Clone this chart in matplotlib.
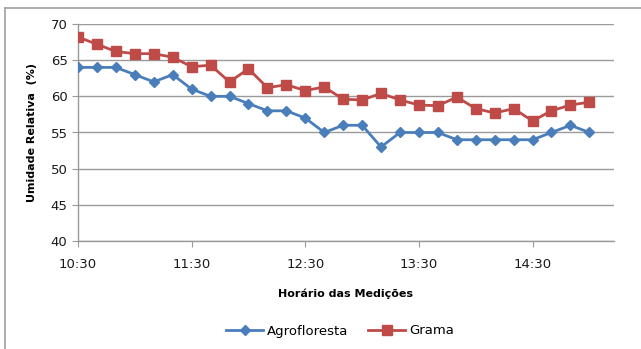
import matplotlib.pyplot as plt
from matplotlib.lines import Line2D
import numpy as np

# measurement times, every 10 min from 10:30 to 15:00
times = ['10:30', '10:40', '10:50', '11:00', '11:10', '11:20',
         '11:30', '11:40', '11:50', '12:00', '12:10', '12:20',
         '12:30', '12:40', '12:50', '13:00', '13:10', '13:20',
         '13:30', '13:40', '13:50', '14:00', '14:10', '14:20',
         '14:30', '14:40', '14:50', '15:00']
agrofloresta = [64, 64, 64, 63, 62, 63, 61, 60, 60, 59, 58, 58, 57, 55,
                56, 56, 53, 55, 55, 55, 54, 54, 54, 54, 54, 55, 56, 55]
grama = [68.2, 67.2, 66.2, 65.9, 65.9, 65.4, 64.1, 64.3, 62.0, 63.8,
         61.2, 61.6, 60.8, 61.3, 59.6, 59.5, 60.4, 59.5, 58.8, 58.7,
         59.9, 58.3, 57.7, 58.3, 56.6, 58.0, 58.8, 59.2]
tick_labels = ['10:30', '11:30', '12:30', '13:30', '14:30']

blue = '#4a7ebb'
red = '#be4b48'
grid_c = '#9a9a9a'

fig = plt.figure(figsize=(6.41, 3.49), dpi=100)
ax = fig.add_axes([78/641, 1-241/349, (614-78)/641, (241-24)/349])

x = np.arange(len(times))
ax.plot(x, agrofloresta, color=blue, lw=2, marker='D', ms=5,
        mec=blue, mfc=blue, label='Agrofloresta', zorder=3)
ax.plot(x, grama, color=red, lw=2, marker='s', ms=6.5,
        mec=red, mfc=red, label='Grama', zorder=3)

ax.set_ylim(40, 70)
ax.set_yticks(range(40, 71, 5))
ax.set_xlim(0, 28.3)
ax.set_xticks([times.index(t) for t in tick_labels])
ax.set_xticklabels(tick_labels)

ax.yaxis.grid(True, color=grid_c, lw=1)
ax.set_axisbelow(True)
for s in ['top', 'right']:
    ax.spines[s].set_visible(False)
for s in ['left', 'bottom']:
    ax.spines[s].set_color(grid_c)
    ax.spines[s].set_linewidth(1)
ax.tick_params(axis='both', colors=grid_c, labelcolor='#1a1a1a',
               labelsize=9.5, length=4)
ax.tick_params(axis='x', pad=8)

ax.set_ylabel('Umidade Relativa  (%)', fontsize=8, fontweight='bold',
              labelpad=10)
ax.set_xlabel('Horário das Medições', fontsize=8, fontweight='bold',
              labelpad=13)

handles = [Line2D([], [], color=blue, lw=2, marker='D', ms=5),
           Line2D([], [], color=red, lw=2, marker='s', ms=6.5)]
fig.legend(handles, ['Agrofloresta', 'Grama'], loc='center',
           bbox_to_anchor=(340/641, 1-331/349), ncol=2, frameon=False,
           fontsize=9.5, handlelength=2.8, columnspacing=1.5,
           handletextpad=0.3)

# outer chart frame
fig.add_artist(plt.Line2D([5/641, 5/641], [0, 1-8/349],
                          transform=fig.transFigure, color='#a0a0a0', lw=1.2))
fig.add_artist(plt.Line2D([5/641, 1], [1-8/349, 1-8/349],
                          transform=fig.transFigure, color='#a0a0a0', lw=1.2))

fig.savefig('out.png', dpi=100)
